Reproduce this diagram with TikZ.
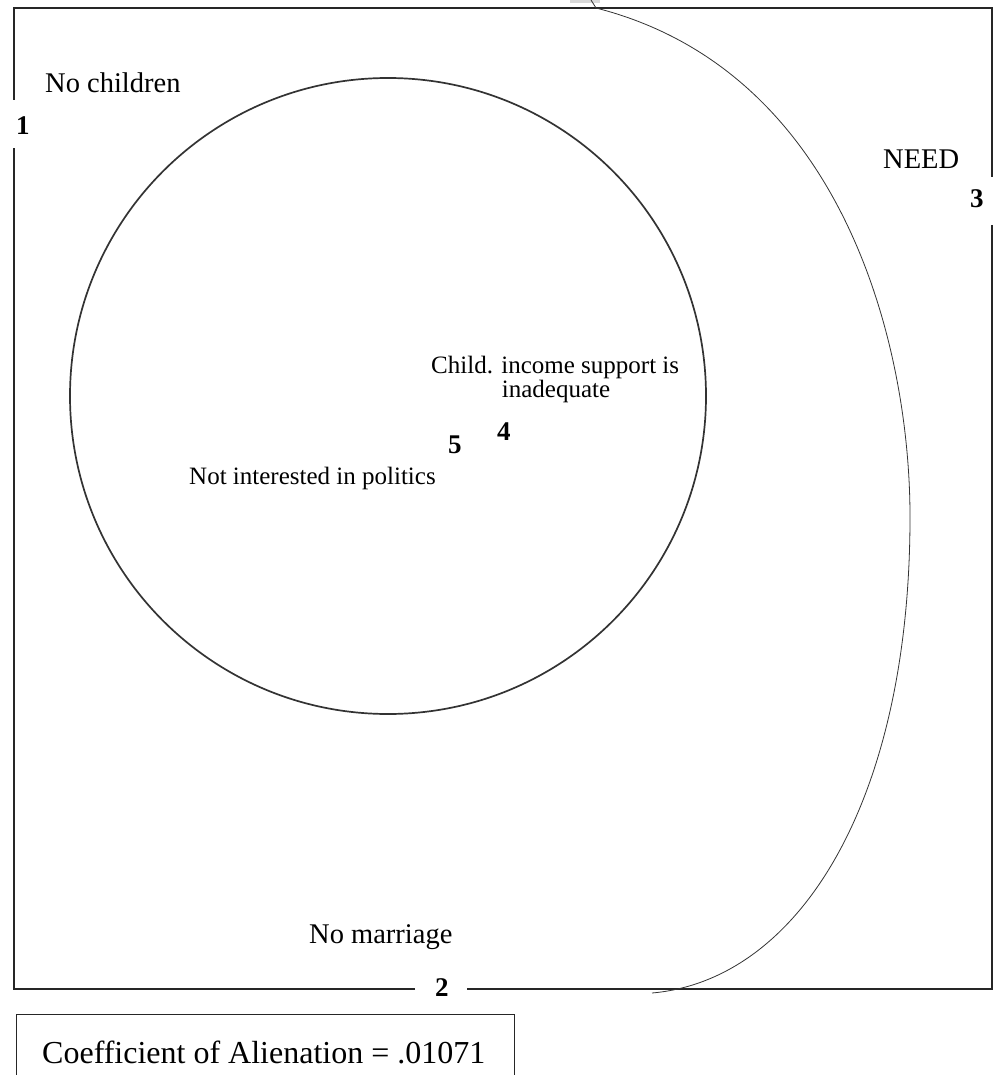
\documentclass[tikz,border=0pt]{standalone}
\usepackage{fontspec}
\setmainfont{Liberation Serif}
\begin{document}
\begin{tikzpicture}[x=1pt,y=-1pt,
  frame/.style={line width=1.8pt,draw=black!85},
  ring/.style={line width=1.7pt,draw=black!80},
  thin/.style={line width=0.8pt,draw=black!80},
  lab/.style={anchor=base west,inner sep=0pt,font=\fontsize{28.5}{30}\selectfont},
  small/.style={anchor=base west,inner sep=0pt,font=\fontsize{25}{27}\selectfont},
  num/.style={anchor=base west,inner sep=0pt,font=\fontsize{27}{29}\selectfont\bfseries}]
\useasboundingbox (0,0) rectangle (994,1075);
% grey fragment at top
\fill[black!15] (570,0) rectangle (600,3);
% frame with gaps at 1, 2, 3
\draw[frame] (14,100) -- (14,8) -- (992,8) -- (992,177);
\draw[frame] (992,225) -- (992,989) -- (467,989);
\draw[frame] (415,989) -- (14,989) -- (14,148);
% circle
\draw[ring] (388,396) circle[radius=318];
% curve
\coordinate (cs) at (591,0);
\coordinate (c0) at (596,8);
\coordinate (cm) at (910,517);
\coordinate (ce) at (652,993);
\draw[thin] (cs) -- (c0) .. controls (840,70) and (910,340) .. (cm)
  .. controls (910,800) and (800,980) .. (ce);
% labels
\node[lab] (nochild) at (45,93) {No children};
\node[num] (n1) at (16,135) {1};
\node[lab] (need) at (883,169) {NEED};
\node[num] (n3) at (970,208) {3};
\node[lab] (nomar) at (309,943) {No marriage};
\node[num] (n2) at (435,996) {2};
\node[small] (child) at (431,373) {Child. income support is};
\node[small,anchor=base] (inadeq) at (556,397) {inadequate};
\node[num] (n4) at (497,440) {4};
\node[num] (n5) at (448,453) {5};
\node[small] (notint) at (189,484) {Not interested in politics};
% coefficient box
\draw[line width=0.9pt,draw=black!85] (16,1080) -- (16,1014) -- (514,1014) -- (514,1080);
\node[anchor=base west,inner sep=0pt,font=\fontsize{32}{34}\selectfont] (coef) at (42,1063) {Coefficient of Alienation = .01071};
\end{tikzpicture}
\end{document}
